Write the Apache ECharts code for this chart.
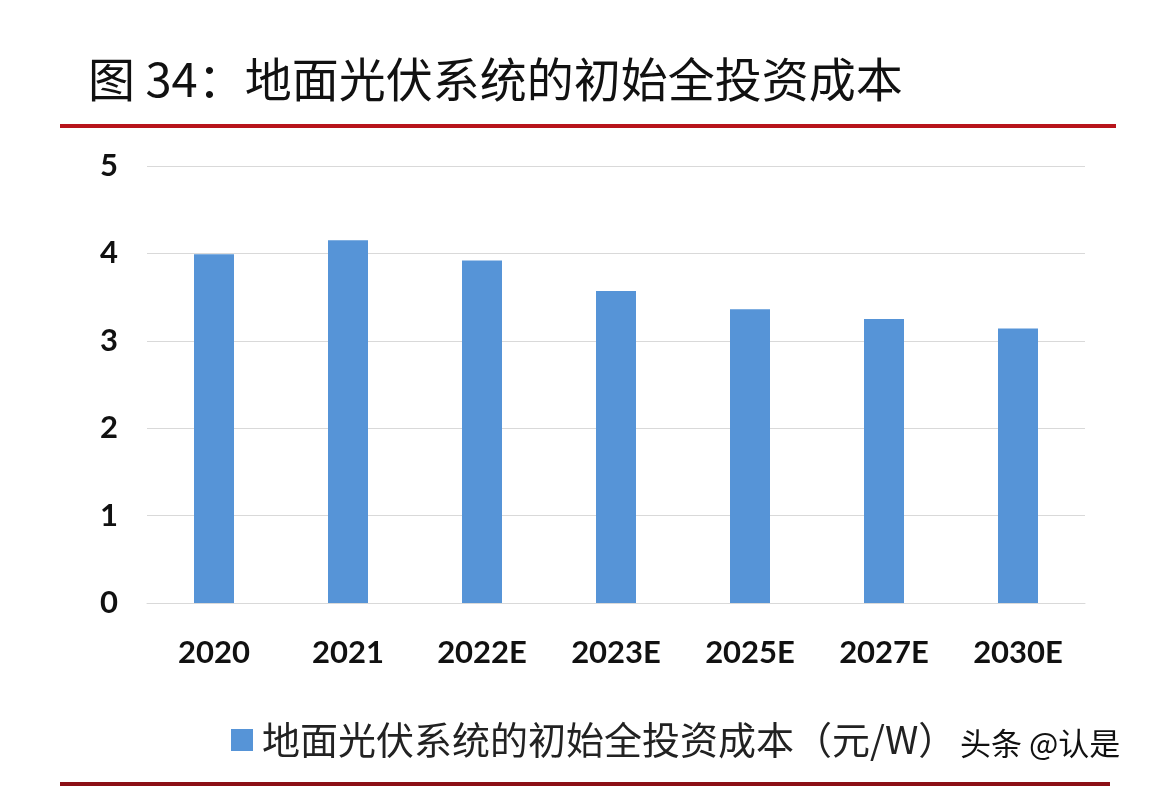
<!DOCTYPE html>
<html>
<head>
<meta charset="utf-8">
<script src="https://cdn.jsdelivr.net/npm/echarts@6/dist/echarts.min.js"></script>
<style>
html,body{margin:0;padding:0;background:#fff;}
#main{width:1154px;height:786px;}
</style>
</head>
<body>
<div id="main"></div>
<script>
var titleText = '图 34：地面光伏系统的初始全投资成本';
var seriesName = '地面光伏系统的初始全投资成本（元/W）';
var categories = ['2020', '2021', '2022E', '2023E', '2025E', '2027E', '2030E'];
var values = [3.99, 4.15, 3.92, 3.57, 3.36, 3.25, 3.14];
var watermark = '头条 @认是';

var chart = echarts.init(document.getElementById('main'));
chart.setOption({
  backgroundColor: '#ffffff',
  animation: false,
  grid: { left: 147, right: 69, top: 166, bottom: 183, containLabel: false },
  xAxis: {
    type: 'category',
    data: categories,
    axisLine: { show: true, lineStyle: { color: '#d9d9d9', width: 1 } },
    axisTick: { show: false },
    axisLabel: { color: '#111', fontSize: 31, fontWeight: 'bold', fontFamily: 'Lato, "Open Sans", sans-serif', margin: 34 }
  },
  yAxis: {
    type: 'value',
    min: 0, max: 5, interval: 1,
    axisLine: { show: false },
    axisTick: { show: false },
    splitLine: { lineStyle: { color: '#d9d9d9', width: 1 } },
    axisLabel: { color: '#111', fontSize: 31, fontWeight: 'bold', fontFamily: 'Lato, "Open Sans", sans-serif', margin: 29 }
  },
  legend: {
    show: true,
    left: 226, top: 716,
    itemWidth: 22, itemHeight: 22,
    icon: 'rect',
    itemGap: 10,
    textStyle: { fontSize: 38, color: '#222', fontFamily: '"Noto Sans CJK SC", sans-serif', padding: [0, 0, 0, 4] },
    data: [seriesName]
  },
  series: [{
    name: seriesName,
    type: 'bar',
    data: values,
    barWidth: 40,
    itemStyle: { color: '#5694d7' }
  }],
  graphic: [
    { type: 'text', left: 88, top: 56, style: { text: titleText, fontSize: 47, fill: '#111', fontFamily: '"Noto Sans CJK SC", sans-serif' } },
    { type: 'rect', shape: { x: 60, y: 124, width: 1056, height: 4 }, style: { fill: '#b8141b' } },
    { type: 'rect', shape: { x: 60, y: 782, width: 1050, height: 4 }, style: { fill: '#8c1016' } },
    { type: 'text', left: 960, top: 728, style: { text: watermark, fontSize: 31, fill: '#111', fontFamily: '"Noto Sans CJK SC", sans-serif' } }
  ]
});
</script>
</body>
</html>
